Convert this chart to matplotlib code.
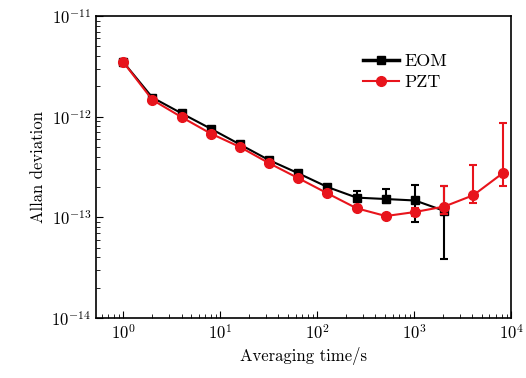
import numpy as np
import matplotlib.pyplot as plt
from matplotlib.lines import Line2D

plt.rcParams['font.family'] = 'serif'
plt.rcParams['font.serif'] = ['cmr10', 'DejaVu Serif']
plt.rcParams['mathtext.fontset'] = 'cm'
plt.rcParams['axes.formatter.use_mathtext'] = True

# averaging times (s)
tau = [1, 2, 4, 8, 16, 32, 64, 128, 256, 512, 1024, 2048]
tau_pzt = [1, 2, 4, 8, 16, 32, 64, 128, 256, 512, 1024, 2048, 4096, 8192]

# Allan deviation values
eom = [3.5e-12, 1.55e-12, 1.08e-12, 7.6e-13, 5.3e-13, 3.7e-13, 2.74e-13,
       2.0e-13, 1.57e-13, 1.52e-13, 1.47e-13, 1.16e-13]
eom_lo = [0, 0, 0, 0, 0, 0, 0, 0, 0.15e-13, 0.14e-13, 0.58e-13, 0.77e-13]
eom_hi = [0, 0, 0, 0, 0, 0, 0, 0, 0.26e-13, 0.39e-13, 0.63e-13, 0.89e-13]

pzt = [3.5e-12, 1.47e-12, 9.9e-13, 6.8e-13, 5.0e-13, 3.45e-13, 2.45e-13,
       1.73e-13, 1.23e-13, 1.03e-13, 1.13e-13, 1.28e-13, 1.66e-13, 2.74e-13]
pzt_lo = [0, 0, 0, 0, 0, 0, 0, 0, 0.05e-13, 0.05e-13, 0.1e-13, 0.2e-13, 0.28e-13, 0.68e-13]
pzt_hi = [0, 0, 0, 0, 0, 0, 0, 0, 0.05e-13, 0.05e-13, 0.1e-13, 0.77e-13, 1.64e-13, 5.96e-13]

black = 'black'
red = '#e8141c'

fig = plt.figure(figsize=(5.26, 3.78), dpi=100)
ax = fig.add_axes([0.1825, 0.1587, 0.789, 0.799])

ax.errorbar(tau, eom, yerr=[eom_lo, eom_hi], color=black, marker='s',
            markersize=6, linewidth=1.5, capsize=3, elinewidth=1.5,
            capthick=1.5, zorder=2)
ax.errorbar(tau_pzt, pzt, yerr=[pzt_lo, pzt_hi], color=red, marker='o',
            markersize=7, linewidth=1.5, capsize=3, elinewidth=1.5,
            capthick=1.5, zorder=3)

ax.set_xscale('log')
ax.set_yscale('log')
ax.set_xlim(0.525, 1e4)
ax.set_ylim(1e-14, 1e-11)

ax.tick_params(which='both', direction='in', top=False, right=False,
               labelsize=12)
ax.tick_params(which='major', length=5)
ax.tick_params(which='minor', length=3)
for s in ax.spines.values():
    s.set_linewidth(1.2)

ax.set_xlabel('Averaging time/s', fontsize=12)
ax.set_ylabel('Allan deviation', fontsize=12)

# legend handles without the error bars
handles = [Line2D([], [], color=black, marker='s', markersize=6, linewidth=2.5),
           Line2D([], [], color=red, marker='o', markersize=7, linewidth=1.5)]
ax.legend(handles, ['EOM', 'PZT'], loc='upper right',
          bbox_to_anchor=(0.885, 0.93), frameon=False,
          fontsize=13, handlelength=2.0, handletextpad=0.3,
          labelspacing=0.3)

fig.savefig('out.png', dpi=100)
